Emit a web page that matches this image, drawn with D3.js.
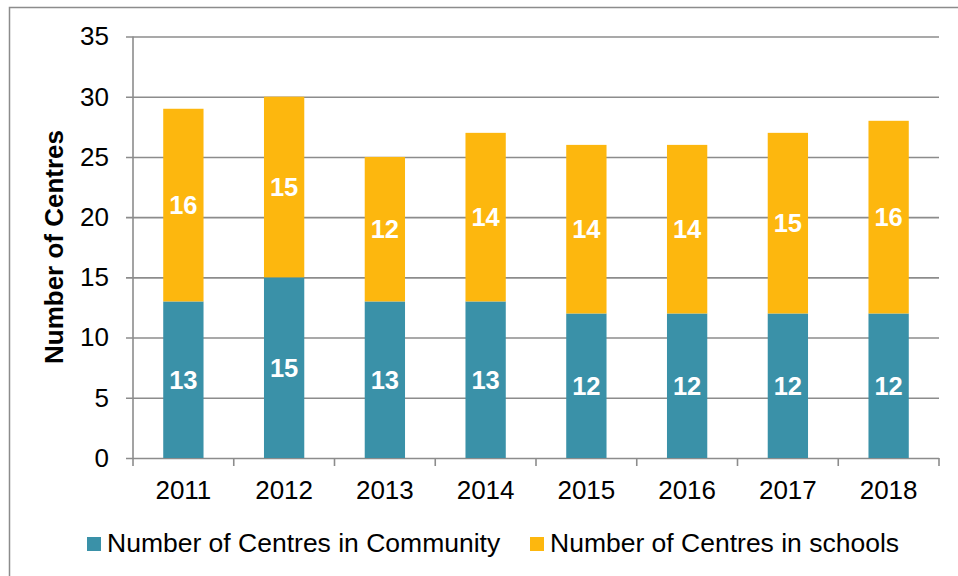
<!DOCTYPE html>
<meta charset="utf-8">
<style>
body { margin: 0; background: #fff; }
text { font-family: Arial, "Liberation Sans", sans-serif; }
</style>
<script src="https://d3js.org/d3.v7.min.js"></script>
<div id="chart"></div>
<script>
// data
var years = ["2011","2012","2013","2014","2015","2016","2017","2018"];
var community = [13, 15, 13, 13, 12, 12, 12, 12];
var schools = [16, 15, 12, 14, 14, 14, 15, 16];
var yTicks = [0, 5, 10, 15, 20, 25, 30, 35];
var seriesNames = ["Number of Centres in Community", "Number of Centres in schools"];
var colors = ["#3a91a8", "#fdb70e"];

var W = 958, H = 576;
var plotLeft = 133, plotRight = 939, plotTop = 36.5, plotBottom = 458;

var svg = d3.select("#chart").append("svg")
  .attr("width", W).attr("height", H);

// outer frame
svg.append("rect")
  .attr("x", 9.5).attr("y", 7.5)
  .attr("width", 1000).attr("height", 1000)
  .attr("fill", "none").attr("stroke", "#8c8c8c").attr("stroke-width", 1.5);

var x = d3.scaleBand().domain(years).range([plotLeft, plotRight]).padding(0);
var y = d3.scaleLinear().domain([0, 35]).range([plotBottom, plotTop]);

// y axis + gridlines
var yAxis = svg.append("g")
  .attr("transform", "translate(" + plotLeft + ",0)")
  .call(d3.axisLeft(y).tickValues(yTicks).tickSizeInner(-(plotRight - plotLeft)).tickSizeOuter(0).tickPadding(24));
yAxis.select(".domain").remove();
yAxis.selectAll("line")
  .attr("x1", -7)
  .attr("stroke", "#8c8c8c").attr("stroke-width", 1.6);
yAxis.selectAll("text")
  .attr("font-size", "26px").attr("fill", "#000")
  .style("font-family", "Arial, 'Liberation Sans', sans-serif");

svg.append("line")
  .attr("x1", plotLeft).attr("x2", plotLeft)
  .attr("y1", plotTop).attr("y2", plotBottom)
  .attr("stroke", "#8c8c8c").attr("stroke-width", 1.6);

// x axis
var xAxis = svg.append("g")
  .attr("transform", "translate(0," + plotBottom + ")")
  .call(d3.axisBottom(x).tickSize(0).tickPadding(23));
xAxis.select(".domain").remove();
xAxis.selectAll("text")
  .attr("font-size", "26px").attr("fill", "#000")
  .style("font-family", "Arial, 'Liberation Sans', sans-serif");

var bounds = years.map(function(d) { return x(d); }).concat([x.range()[1]]);
svg.selectAll(".xtick")
  .data(bounds)
  .enter().append("line")
    .attr("x1", function(d) { return d; })
    .attr("x2", function(d) { return d; })
    .attr("y1", plotBottom).attr("y2", plotBottom + 8)
    .attr("stroke", "#8c8c8c").attr("stroke-width", 1.6);

// stacked bars
var rows = years.map(function(d, i) { return {year: d, c: community[i], s: schools[i]}; });
var stack = d3.stack().keys(["c", "s"])(rows);
var bw = x.bandwidth() * 0.4;

var layers = svg.selectAll(".layer")
  .data(stack)
  .enter().append("g")
    .attr("fill", function(d, i) { return colors[i]; });

layers.selectAll("rect")
  .data(function(d) { return d; })
  .enter().append("rect")
    .attr("x", function(d) { return x(d.data.year) + (x.bandwidth() - bw) / 2; })
    .attr("width", bw)
    .attr("y", function(d) { return y(d[1]); })
    .attr("height", function(d) { return y(d[0]) - y(d[1]); });

layers.selectAll("text")
  .data(function(d) { return d; })
  .enter().append("text")
    .attr("x", function(d) { return x(d.data.year) + x.bandwidth() / 2; })
    .attr("y", function(d) { return y((d[0] + d[1]) / 2); })
    .attr("dy", "0.36em")
    .attr("text-anchor", "middle")
    .attr("fill", "#fff")
    .attr("font-weight", "bold")
    .attr("font-size", "25.5px")
    .text(function(d) { return d[1] - d[0]; });

// y axis title
svg.append("text")
  .attr("transform", "translate(63,247) rotate(-90)")
  .attr("text-anchor", "middle")
  .attr("font-weight", "bold")
  .attr("font-size", "26px")
  .attr("fill", "#000")
  .text("Number of Centres");

// legend
var legendX = [87, 530];
var legend = svg.selectAll(".legend")
  .data(seriesNames)
  .enter().append("g")
    .attr("transform", function(d, i) { return "translate(" + legendX[i] + ",537)"; });
legend.append("rect")
  .attr("width", 14).attr("height", 14)
  .attr("fill", function(d, i) { return colors[i]; });
legend.append("text")
  .attr("x", 20).attr("y", 15)
  .attr("font-size", "26.5px")
  .attr("fill", "#000")
  .text(function(d) { return d; });
</script>
